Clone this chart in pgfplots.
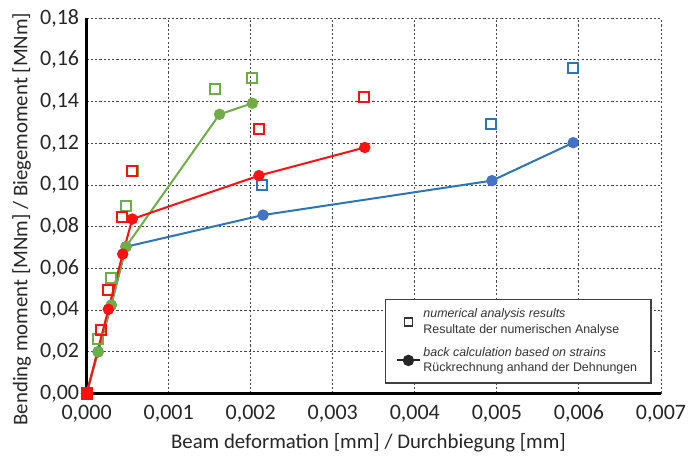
\documentclass[border=0pt]{standalone}
\usepackage{pgfplots}
\pgfplotsset{compat=1.18}
\usepackage{fontspec}
\setmainfont{Carlito}
\newfontfamily\arialfont{Liberation Sans}

\definecolor{cblue}{HTML}{2E75B6}
\definecolor{cbluedot}{HTML}{4472C4}
\definecolor{cgreen}{HTML}{70AD47}
\definecolor{cred}{HTML}{FF1111}

\begin{document}
\begin{tikzpicture}
\path[use as bounding box] (-64.95pt,-55.9pt) rectangle (452.55pt,295.15pt);
\begin{axis}[
    scale only axis,
    width=430.8pt, height=281.5pt,
    xmin=0, xmax=0.007, ymin=0, ymax=0.18,
    xtick={0,0.001,...,0.007},
    ytick={0,0.02,...,0.18},
    scaled ticks=false,
    axis x line=bottom, axis y line=left,
    axis line style={line width=2.2pt, -},
    tick style={draw=none},
    grid=major,
    major grid style={gray!55!black, line width=0.7pt, dash pattern=on 1.6pt off 1.6pt},
    x tick label style={yshift=-3pt, /pgf/number format/.cd, fixed, fixed zerofill, precision=3, use comma, assume math mode=true},
    y tick label style={/pgf/number format/.cd, fixed, fixed zerofill, precision=2, use comma, assume math mode=true},
    ticklabel style={font=\fontsize{16.5}{19}\selectfont, text=black!85},
    label style={font=\fontsize{15.6}{19}\selectfont, text=black!85},
    xlabel={Beam deformation [mm] / Durchbiegung [mm]},
    ylabel={Bending moment [MNm] / Biegemoment [MNm]},
    xlabel style={yshift=-1pt, xshift=-4pt},
    ylabel style={at={(ticklabel cs:0.465)}, anchor=near ticklabel},
    legend style={at={(rel axis cs:0.519,0.252)}, anchor=north west,
        draw=black!75, line width=1pt, fill=white,
        font=\arialfont\fontsize{9.3}{11.5}\selectfont, text=black!80,
        cells={align=left}, row sep=5pt, inner xsep=8pt, inner ysep=5pt,
        /tikz/every even column/.append style={column sep=6pt}},
    legend cell align=left,
    clip=false,
]
% legend images
\addlegendimage{only marks, mark=square, mark size=3pt, line width=1.3pt, draw=black!80}
\addlegendentry{\textit{numerical analysis results}\\Resultate der numerischen Analyse\hspace*{1.5em}}
\addlegendimage{black!85, line width=1.5pt, mark=*, mark size=3.5pt}
\addlegendentry{\textit{back calculation based on strains}\\Rückrechnung anhand der Dehnungen}

% blue series
\addplot[cblue, line width=1.5pt, mark=*, mark size=3.5pt, mark options={draw=cbluedot, fill=cbluedot}, forget plot] coordinates {
(0,0) (0.00014,0.020) (0.00030,0.0424) (0.00048,0.0704) (0.00215,0.0856) (0.00494,0.1021) (0.00593,0.1203)};
\addplot[only marks, mark=square, mark size=3.8pt, line width=1.5pt, cblue, forget plot] coordinates {
(0.00014,0.0261) (0.00030,0.0552) (0.00048,0.0900) (0.00214,0.1000) (0.00493,0.1293) (0.00593,0.1560)};

% green series
\addplot[cgreen, line width=1.5pt, mark=*, mark size=3.5pt, mark options={fill=cgreen}, forget plot] coordinates {
(0,0) (0.00014,0.020) (0.00030,0.0424) (0.00048,0.0704) (0.00162,0.1339) (0.00202,0.1392)};
\addplot[only marks, mark=square, mark size=3.8pt, line width=1.5pt, cgreen, forget plot] coordinates {
(0.00014,0.0261) (0.00030,0.0552) (0.00048,0.0900) (0.00056,0.1069) (0.00157,0.1459) (0.00202,0.1515)};

% red series
\addplot[cred, line width=1.5pt, mark=*, mark size=3.5pt, mark options={fill=cred}, forget plot] coordinates {
(0,0) (0.000265,0.0404) (0.00044,0.0669) (0.000557,0.0837) (0.00210,0.1045) (0.00339,0.1180)};
\addplot[only marks, mark=square, mark size=3.8pt, line width=1.5pt, cred, forget plot] coordinates {
(0,0) (0.000175,0.0305) (0.000265,0.0496) (0.000435,0.0848) (0.000557,0.1069) (0.00210,0.1270) (0.00338,0.1423)};
\end{axis}
\end{tikzpicture}
\end{document}
